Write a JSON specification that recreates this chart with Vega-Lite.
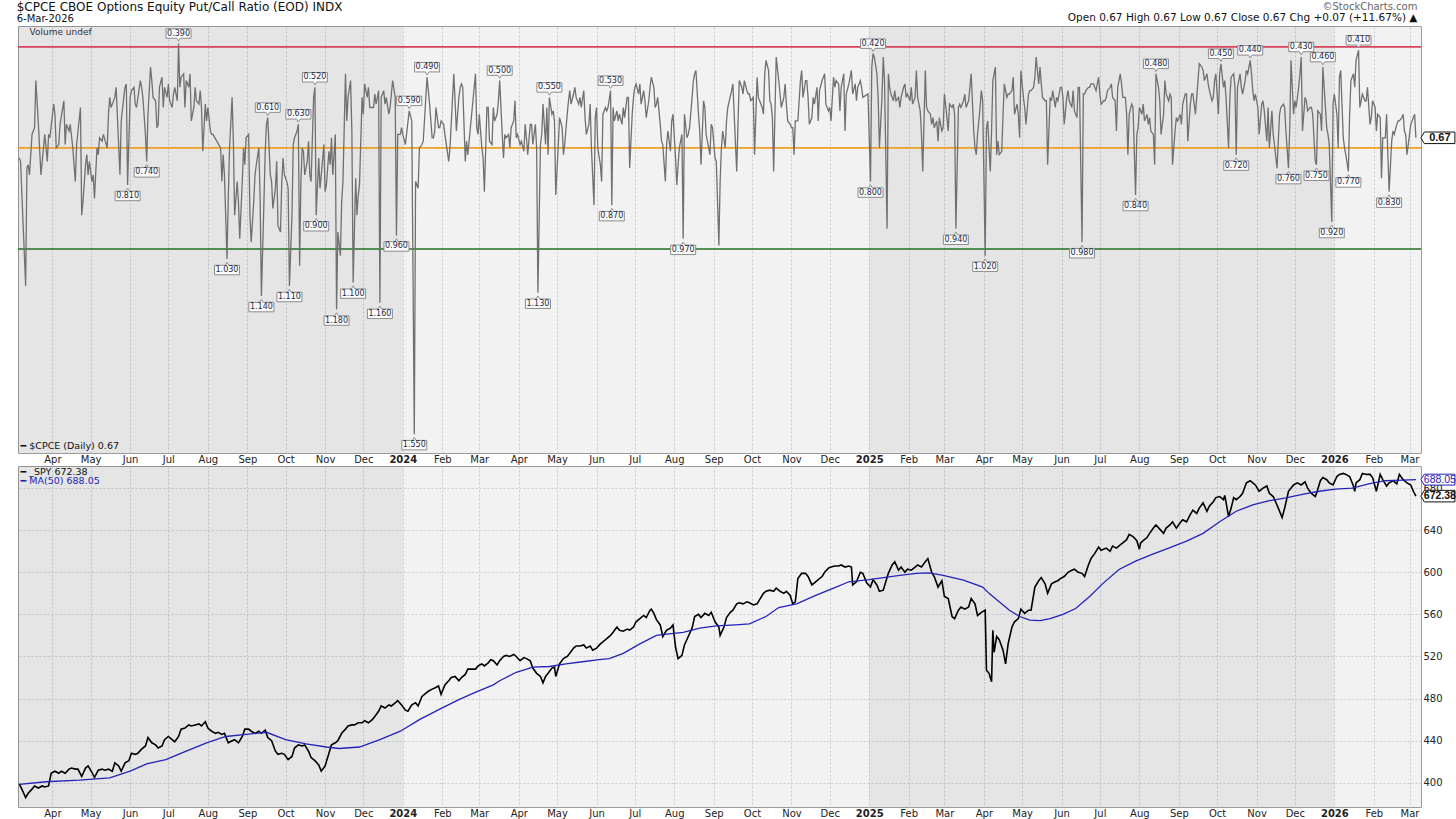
{
  "$schema": "https://vega.github.io/schema/vega-lite/v6.json",
  "padding": {"left": 15, "top": 0, "right": 0, "bottom": 0},
  "background": "white",
  "config": {
    "font": "DejaVu Sans",
    "view": {"stroke": "#9b9b9b", "strokeWidth": 1, "fill": "#f2f2f2"},
    "axis": {"grid": true, "gridColor": "#c5ccd6", "gridDash": [2, 2], "ticks": false, "domain": false, "labelFontSize": 10, "labelColor": "#222222", "labelPadding": 3, "labelOverlap": false, "labelFlush": false}
  },
  "title": {
    "text": "©StockCharts.com",
    "subtitle": "Open 0.67  High 0.67  Low 0.67  Close 0.67  Chg +0.07 (+11.67%) ▲",
    "anchor": "end", "offset": -23, "dx": -40,
    "fontSize": 10, "fontWeight": "normal", "color": "#666666",
    "subtitleFontSize": 10.5, "subtitleColor": "#111111", "subtitlePadding": 1
  },
  "datasets": {
    "cpce": [
      {"d":"2023-03-06","v":0.73},{"d":"2023-03-07","v":0.74},{"d":"2023-03-11","v":1.11},{"d":"2023-03-12","v":0.76},{"d":"2023-03-13","v":0.75},{"d":"2023-03-14","v":0.78},{"d":"2023-03-16","v":0.66},{"d":"2023-03-18","v":0.64},{"d":"2023-03-19","v":0.50},{"d":"2023-03-21","v":0.63},{"d":"2023-03-23","v":0.78},{"d":"2023-03-25","v":0.70},{"d":"2023-03-26","v":0.66},{"d":"2023-03-28","v":0.74},{"d":"2023-03-29","v":0.66},{"d":"2023-03-30","v":0.67},
      {"d":"2023-04-02","v":0.57},{"d":"2023-04-03","v":0.60},{"d":"2023-04-04","v":0.70},{"d":"2023-04-06","v":0.69},{"d":"2023-04-07","v":0.63},{"d":"2023-04-10","v":0.56},{"d":"2023-04-11","v":0.69},{"d":"2023-04-12","v":0.63},{"d":"2023-04-14","v":0.65},{"d":"2023-04-15","v":0.63},{"d":"2023-04-17","v":0.70},{"d":"2023-04-19","v":0.80},{"d":"2023-04-20","v":0.69},{"d":"2023-04-23","v":0.58},{"d":"2023-04-24","v":0.90},{"d":"2023-04-25","v":0.86},{"d":"2023-04-27","v":0.75},{"d":"2023-04-28","v":0.72},{"d":"2023-04-29","v":0.78},{"d":"2023-04-30","v":0.74},
      {"d":"2023-05-02","v":0.80},{"d":"2023-05-03","v":0.78},{"d":"2023-05-04","v":0.85},{"d":"2023-05-06","v":0.70},{"d":"2023-05-07","v":0.72},{"d":"2023-05-08","v":0.67},{"d":"2023-05-10","v":0.68},{"d":"2023-05-11","v":0.66},{"d":"2023-05-14","v":0.70},{"d":"2023-05-15","v":0.60},{"d":"2023-05-16","v":0.55},{"d":"2023-05-17","v":0.58},{"d":"2023-05-20","v":0.55},{"d":"2023-05-21","v":0.52},{"d":"2023-05-24","v":0.78},{"d":"2023-05-25","v":0.62},{"d":"2023-05-27","v":0.55},{"d":"2023-05-28","v":0.52},{"d":"2023-05-29","v":0.51},{"d":"2023-05-30","v":0.81,"ext":"high"},
      {"d":"2023-06-01","v":0.55},{"d":"2023-06-02","v":0.53},{"d":"2023-06-04","v":0.52},{"d":"2023-06-05","v":0.57},{"d":"2023-06-06","v":0.58},{"d":"2023-06-09","v":0.50},{"d":"2023-06-10","v":0.52},{"d":"2023-06-11","v":0.55},{"d":"2023-06-13","v":0.66},{"d":"2023-06-14","v":0.74,"ext":"high"},{"d":"2023-06-15","v":0.60},{"d":"2023-06-17","v":0.46},{"d":"2023-06-18","v":0.50},{"d":"2023-06-19","v":0.55},{"d":"2023-06-21","v":0.56},{"d":"2023-06-22","v":0.64},{"d":"2023-06-23","v":0.63},{"d":"2023-06-24","v":0.52},{"d":"2023-06-26","v":0.49},{"d":"2023-06-27","v":0.58},{"d":"2023-06-28","v":0.52},{"d":"2023-06-30","v":0.55},
      {"d":"2023-07-01","v":0.51},{"d":"2023-07-02","v":0.56},{"d":"2023-07-04","v":0.58},{"d":"2023-07-05","v":0.54},{"d":"2023-07-06","v":0.52},{"d":"2023-07-08","v":0.56},{"d":"2023-07-09","v":0.39,"ext":"low"},{"d":"2023-07-10","v":0.52},{"d":"2023-07-11","v":0.49},{"d":"2023-07-13","v":0.48},{"d":"2023-07-14","v":0.58},{"d":"2023-07-15","v":0.50},{"d":"2023-07-17","v":0.52},{"d":"2023-07-18","v":0.48},{"d":"2023-07-19","v":0.62},{"d":"2023-07-21","v":0.58},{"d":"2023-07-22","v":0.52},{"d":"2023-07-23","v":0.56},{"d":"2023-07-25","v":0.57},{"d":"2023-07-26","v":0.53},{"d":"2023-07-27","v":0.58},{"d":"2023-07-28","v":0.71},{"d":"2023-07-30","v":0.57},{"d":"2023-07-31","v":0.62},
      {"d":"2023-08-01","v":0.58},{"d":"2023-08-03","v":0.65},{"d":"2023-08-04","v":0.66},{"d":"2023-08-05","v":0.66},{"d":"2023-08-08","v":0.68},{"d":"2023-08-11","v":0.70},{"d":"2023-08-12","v":0.80},{"d":"2023-08-13","v":0.72},{"d":"2023-08-14","v":0.78},{"d":"2023-08-16","v":1.03,"ext":"high"},{"d":"2023-08-17","v":0.85},{"d":"2023-08-18","v":0.70},{"d":"2023-08-20","v":0.55},{"d":"2023-08-21","v":0.68},{"d":"2023-08-22","v":0.90},{"d":"2023-08-24","v":0.80},{"d":"2023-08-25","v":0.86},{"d":"2023-08-26","v":0.97},{"d":"2023-08-28","v":0.80},{"d":"2023-08-29","v":0.70},{"d":"2023-08-30","v":0.75},{"d":"2023-08-31","v":0.67},
      {"d":"2023-09-02","v":0.66},{"d":"2023-09-03","v":0.90},{"d":"2023-09-04","v":0.98},{"d":"2023-09-06","v":0.86},{"d":"2023-09-07","v":0.78},{"d":"2023-09-08","v":0.75},{"d":"2023-09-10","v":0.70},{"d":"2023-09-11","v":0.85},{"d":"2023-09-12","v":1.14,"ext":"high"},{"d":"2023-09-14","v":0.86},{"d":"2023-09-15","v":0.71},{"d":"2023-09-16","v":0.63},{"d":"2023-09-17","v":0.61,"ext":"low"},{"d":"2023-09-19","v":0.78},{"d":"2023-09-20","v":0.80},{"d":"2023-09-21","v":0.88},{"d":"2023-09-23","v":0.82},{"d":"2023-09-24","v":0.74},{"d":"2023-09-25","v":0.93},{"d":"2023-09-27","v":0.95},{"d":"2023-09-28","v":0.80},{"d":"2023-09-29","v":0.73},{"d":"2023-09-30","v":0.78},
      {"d":"2023-10-02","v":0.80},{"d":"2023-10-03","v":0.82},{"d":"2023-10-04","v":1.11,"ext":"high"},{"d":"2023-10-06","v":0.90},{"d":"2023-10-07","v":0.69},{"d":"2023-10-08","v":0.67},{"d":"2023-10-10","v":0.65},{"d":"2023-10-11","v":0.63,"ext":"low"},{"d":"2023-10-12","v":1.05},{"d":"2023-10-13","v":0.80},{"d":"2023-10-14","v":0.70},{"d":"2023-10-15","v":0.71},{"d":"2023-10-16","v":0.78},{"d":"2023-10-18","v":0.74},{"d":"2023-10-19","v":0.68},{"d":"2023-10-20","v":0.78},{"d":"2023-10-21","v":0.80},{"d":"2023-10-23","v":0.55},{"d":"2023-10-24","v":0.52,"ext":"low"},{"d":"2023-10-25","v":0.90,"ext":"high"},{"d":"2023-10-27","v":0.73},{"d":"2023-10-28","v":0.82},{"d":"2023-10-29","v":0.78},{"d":"2023-10-31","v":0.69},
      {"d":"2023-11-01","v":0.83},{"d":"2023-11-02","v":0.81},{"d":"2023-11-04","v":0.71},{"d":"2023-11-05","v":0.75},{"d":"2023-11-06","v":0.67},{"d":"2023-11-07","v":0.78},{"d":"2023-11-09","v":0.66},{"d":"2023-11-10","v":1.18,"ext":"high"},{"d":"2023-11-11","v":0.95},{"d":"2023-11-13","v":1.02},{"d":"2023-11-14","v":0.86},{"d":"2023-11-15","v":0.80},{"d":"2023-11-17","v":0.48},{"d":"2023-11-18","v":0.62},{"d":"2023-11-19","v":0.55},{"d":"2023-11-21","v":0.50},{"d":"2023-11-22","v":0.65},{"d":"2023-11-23","v":1.10,"ext":"high"},{"d":"2023-11-25","v":0.79},{"d":"2023-11-26","v":0.90},{"d":"2023-11-27","v":0.84},{"d":"2023-11-28","v":0.81},{"d":"2023-11-30","v":0.55},
      {"d":"2023-12-01","v":0.60},{"d":"2023-12-02","v":0.51},{"d":"2023-12-04","v":0.55},{"d":"2023-12-05","v":0.52},{"d":"2023-12-06","v":0.58},{"d":"2023-12-09","v":0.58},{"d":"2023-12-10","v":0.54},{"d":"2023-12-11","v":0.57},{"d":"2023-12-13","v":0.53},{"d":"2023-12-14","v":1.16,"ext":"high"},{"d":"2023-12-15","v":0.55},{"d":"2023-12-17","v":0.53},{"d":"2023-12-18","v":0.57},{"d":"2023-12-19","v":0.55},{"d":"2023-12-21","v":0.60},{"d":"2023-12-22","v":0.58},{"d":"2023-12-23","v":0.54},{"d":"2023-12-24","v":0.50},{"d":"2023-12-26","v":0.55},{"d":"2023-12-27","v":0.96,"ext":"high"},{"d":"2023-12-28","v":0.66},{"d":"2023-12-30","v":0.66},{"d":"2023-12-31","v":0.64},
      {"d":"2024-01-01","v":0.66},{"d":"2024-01-03","v":0.69},{"d":"2024-01-06","v":0.59,"ext":"low"},{"d":"2024-01-08","v":0.62},{"d":"2024-01-10","v":1.55,"ext":"high"},{"d":"2024-01-11","v":0.80},{"d":"2024-01-13","v":0.82},{"d":"2024-01-14","v":0.70},{"d":"2024-01-16","v":0.69},{"d":"2024-01-17","v":0.68},{"d":"2024-01-20","v":0.49,"ext":"low"},{"d":"2024-01-22","v":0.57},{"d":"2024-01-24","v":0.67},{"d":"2024-01-25","v":0.67},{"d":"2024-01-26","v":0.65},{"d":"2024-01-27","v":0.58},{"d":"2024-01-29","v":0.64},{"d":"2024-01-30","v":0.64},{"d":"2024-01-31","v":0.62},
      {"d":"2024-02-02","v":0.63},{"d":"2024-02-03","v":0.66},{"d":"2024-02-06","v":0.74},{"d":"2024-02-07","v":0.70},{"d":"2024-02-10","v":0.48},{"d":"2024-02-11","v":0.56},{"d":"2024-02-12","v":0.65},{"d":"2024-02-14","v":0.55},{"d":"2024-02-15","v":0.52},{"d":"2024-02-16","v":0.51},{"d":"2024-02-17","v":0.52},{"d":"2024-02-19","v":0.74},{"d":"2024-02-20","v":0.68},{"d":"2024-02-21","v":0.72},{"d":"2024-02-24","v":0.60},{"d":"2024-02-27","v":0.48},{"d":"2024-02-28","v":0.64},{"d":"2024-02-29","v":0.66},
      {"d":"2024-03-01","v":0.60},{"d":"2024-03-03","v":0.70},{"d":"2024-03-04","v":0.73},{"d":"2024-03-05","v":0.83},{"d":"2024-03-07","v":0.58},{"d":"2024-03-08","v":0.58},{"d":"2024-03-09","v":0.68},{"d":"2024-03-11","v":0.69},{"d":"2024-03-12","v":0.58},{"d":"2024-03-13","v":0.62},{"d":"2024-03-15","v":0.60},{"d":"2024-03-16","v":0.56},{"d":"2024-03-17","v":0.50,"ext":"low"},{"d":"2024-03-19","v":0.66},{"d":"2024-03-20","v":0.73},{"d":"2024-03-21","v":0.66},{"d":"2024-03-22","v":0.67},{"d":"2024-03-24","v":0.66},{"d":"2024-03-25","v":0.70},{"d":"2024-03-26","v":0.64},{"d":"2024-03-28","v":0.62},{"d":"2024-03-29","v":0.56},{"d":"2024-03-30","v":0.67},{"d":"2024-03-31","v":0.66},
      {"d":"2024-04-02","v":0.69},{"d":"2024-04-03","v":0.68},{"d":"2024-04-05","v":0.71},{"d":"2024-04-06","v":0.63},{"d":"2024-04-07","v":0.67},{"d":"2024-04-08","v":0.72},{"d":"2024-04-10","v":0.63},{"d":"2024-04-11","v":0.63},{"d":"2024-04-12","v":0.69},{"d":"2024-04-14","v":0.63},{"d":"2024-04-15","v":0.70},{"d":"2024-04-16","v":1.13,"ext":"high"},{"d":"2024-04-18","v":0.69},{"d":"2024-04-19","v":0.66},{"d":"2024-04-20","v":0.57},{"d":"2024-04-22","v":0.69},{"d":"2024-04-23","v":0.58},{"d":"2024-04-24","v":0.72},{"d":"2024-04-25","v":0.55,"ext":"low"},{"d":"2024-04-27","v":0.60},{"d":"2024-04-28","v":0.59},{"d":"2024-04-29","v":0.62},{"d":"2024-04-30","v":0.84},
      {"d":"2024-05-02","v":0.69},{"d":"2024-05-03","v":0.61},{"d":"2024-05-05","v":0.64},{"d":"2024-05-06","v":0.72},{"d":"2024-05-07","v":0.69},{"d":"2024-05-09","v":0.60},{"d":"2024-05-10","v":0.56},{"d":"2024-05-11","v":0.53},{"d":"2024-05-12","v":0.57},{"d":"2024-05-14","v":0.54},{"d":"2024-05-15","v":0.52},{"d":"2024-05-16","v":0.55},{"d":"2024-05-18","v":0.57},{"d":"2024-05-19","v":0.55},{"d":"2024-05-20","v":0.58},{"d":"2024-05-22","v":0.53},{"d":"2024-05-23","v":0.61},{"d":"2024-05-24","v":0.66},{"d":"2024-05-26","v":0.63},{"d":"2024-05-27","v":0.57},{"d":"2024-05-28","v":0.70},{"d":"2024-05-30","v":0.87},{"d":"2024-05-31","v":0.61},
      {"d":"2024-06-01","v":0.58},{"d":"2024-06-02","v":0.70},{"d":"2024-06-04","v":0.75},{"d":"2024-06-05","v":0.80},{"d":"2024-06-06","v":0.60},{"d":"2024-06-08","v":0.58},{"d":"2024-06-09","v":0.59},{"d":"2024-06-10","v":0.58},{"d":"2024-06-12","v":0.53,"ext":"low"},{"d":"2024-06-13","v":0.87,"ext":"high"},{"d":"2024-06-14","v":0.58},{"d":"2024-06-15","v":0.62},{"d":"2024-06-17","v":0.59},{"d":"2024-06-18","v":0.62},{"d":"2024-06-19","v":0.60},{"d":"2024-06-21","v":0.63},{"d":"2024-06-22","v":0.58},{"d":"2024-06-23","v":0.61},{"d":"2024-06-25","v":0.55},{"d":"2024-06-26","v":0.55},{"d":"2024-06-27","v":0.76},{"d":"2024-06-29","v":0.60},{"d":"2024-06-30","v":0.55},
      {"d":"2024-07-01","v":0.52},{"d":"2024-07-02","v":0.51},{"d":"2024-07-04","v":0.54},{"d":"2024-07-05","v":0.51},{"d":"2024-07-06","v":0.57},{"d":"2024-07-08","v":0.53},{"d":"2024-07-09","v":0.56},{"d":"2024-07-10","v":0.61},{"d":"2024-07-12","v":0.56},{"d":"2024-07-13","v":0.52},{"d":"2024-07-14","v":0.49},{"d":"2024-07-16","v":0.52},{"d":"2024-07-17","v":0.58},{"d":"2024-07-18","v":0.57},{"d":"2024-07-19","v":0.55},{"d":"2024-07-21","v":0.63},{"d":"2024-07-22","v":0.68},{"d":"2024-07-23","v":0.69},{"d":"2024-07-25","v":0.80},{"d":"2024-07-26","v":0.69},{"d":"2024-07-27","v":0.65},{"d":"2024-07-29","v":0.71},{"d":"2024-07-30","v":0.62},{"d":"2024-07-31","v":0.60},
      {"d":"2024-08-02","v":0.73},{"d":"2024-08-03","v":0.81},{"d":"2024-08-04","v":0.75},{"d":"2024-08-05","v":0.70},{"d":"2024-08-07","v":0.66},{"d":"2024-08-08","v":0.97,"ext":"high"},{"d":"2024-08-09","v":0.60},{"d":"2024-08-11","v":0.67},{"d":"2024-08-12","v":0.66},{"d":"2024-08-13","v":0.64},{"d":"2024-08-15","v":0.55},{"d":"2024-08-16","v":0.50},{"d":"2024-08-17","v":0.48},{"d":"2024-08-18","v":0.47},{"d":"2024-08-20","v":0.60},{"d":"2024-08-21","v":0.65},{"d":"2024-08-22","v":0.75},{"d":"2024-08-24","v":0.56},{"d":"2024-08-25","v":0.58},{"d":"2024-08-26","v":0.66},{"d":"2024-08-28","v":0.70},{"d":"2024-08-29","v":0.72},{"d":"2024-08-30","v":0.63},{"d":"2024-08-31","v":0.64},
      {"d":"2024-09-02","v":0.73},{"d":"2024-09-03","v":0.74},{"d":"2024-09-05","v":0.99},{"d":"2024-09-06","v":0.80},{"d":"2024-09-07","v":0.70},{"d":"2024-09-08","v":0.65},{"d":"2024-09-10","v":0.70},{"d":"2024-09-11","v":0.62},{"d":"2024-09-12","v":0.58},{"d":"2024-09-15","v":0.53},{"d":"2024-09-16","v":0.51},{"d":"2024-09-19","v":0.77},{"d":"2024-09-20","v":0.63},{"d":"2024-09-21","v":0.50},{"d":"2024-09-23","v":0.52},{"d":"2024-09-24","v":0.54},{"d":"2024-09-25","v":0.50},{"d":"2024-09-27","v":0.53},{"d":"2024-09-28","v":0.54},{"d":"2024-09-29","v":0.54},{"d":"2024-09-30","v":0.56},
      {"d":"2024-10-02","v":0.55},{"d":"2024-10-03","v":0.72},{"d":"2024-10-05","v":0.49},{"d":"2024-10-06","v":0.55},{"d":"2024-10-09","v":0.58},{"d":"2024-10-10","v":0.60},{"d":"2024-10-11","v":0.48},{"d":"2024-10-12","v":0.44},{"d":"2024-10-14","v":0.47},{"d":"2024-10-15","v":0.56},{"d":"2024-10-16","v":0.57},{"d":"2024-10-17","v":0.61},{"d":"2024-10-18","v":0.77},{"d":"2024-10-20","v":0.43},{"d":"2024-10-22","v":0.50},{"d":"2024-10-24","v":0.58},{"d":"2024-10-26","v":0.55},{"d":"2024-10-27","v":0.51},{"d":"2024-10-28","v":0.57},{"d":"2024-10-29","v":0.62},{"d":"2024-10-31","v":0.63},
      {"d":"2024-11-01","v":0.64},{"d":"2024-11-02","v":0.64},{"d":"2024-11-03","v":0.72},{"d":"2024-11-04","v":0.62},{"d":"2024-11-06","v":0.62},{"d":"2024-11-08","v":0.50},{"d":"2024-11-09","v":0.47},{"d":"2024-11-10","v":0.55},{"d":"2024-11-12","v":0.50},{"d":"2024-11-13","v":0.50},{"d":"2024-11-14","v":0.55},{"d":"2024-11-15","v":0.63},{"d":"2024-11-17","v":0.61},{"d":"2024-11-18","v":0.55},{"d":"2024-11-19","v":0.57},{"d":"2024-11-21","v":0.52},{"d":"2024-11-22","v":0.62},{"d":"2024-11-23","v":0.53},{"d":"2024-11-25","v":0.50},{"d":"2024-11-26","v":0.49},{"d":"2024-11-27","v":0.48},{"d":"2024-11-28","v":0.57},{"d":"2024-11-30","v":0.59},
      {"d":"2024-12-01","v":0.58},{"d":"2024-12-02","v":0.62},{"d":"2024-12-04","v":0.49},{"d":"2024-12-05","v":0.52},{"d":"2024-12-06","v":0.50},{"d":"2024-12-08","v":0.51},{"d":"2024-12-09","v":0.59},{"d":"2024-12-10","v":0.52},{"d":"2024-12-12","v":0.48},{"d":"2024-12-13","v":0.65},{"d":"2024-12-14","v":0.54},{"d":"2024-12-16","v":0.51},{"d":"2024-12-17","v":0.49},{"d":"2024-12-18","v":0.47},{"d":"2024-12-19","v":0.54},{"d":"2024-12-21","v":0.51},{"d":"2024-12-22","v":0.56},{"d":"2024-12-23","v":0.52},{"d":"2024-12-25","v":0.50},{"d":"2024-12-26","v":0.52},{"d":"2024-12-27","v":0.55},{"d":"2024-12-31","v":0.54},
      {"d":"2025-01-02","v":0.80,"ext":"high"},{"d":"2025-01-03","v":0.46},{"d":"2025-01-04","v":0.42,"ext":"low"},{"d":"2025-01-05","v":0.43},{"d":"2025-01-07","v":0.48},{"d":"2025-01-08","v":0.55},{"d":"2025-01-09","v":0.70},{"d":"2025-01-11","v":0.55},{"d":"2025-01-12","v":0.43},{"d":"2025-01-13","v":0.50},{"d":"2025-01-15","v":0.94},{"d":"2025-01-16","v":0.48},{"d":"2025-01-17","v":0.52},{"d":"2025-01-18","v":0.54},{"d":"2025-01-20","v":0.56},{"d":"2025-01-21","v":0.53},{"d":"2025-01-22","v":0.56},{"d":"2025-01-24","v":0.55},{"d":"2025-01-25","v":0.58},{"d":"2025-01-26","v":0.55},{"d":"2025-01-28","v":0.52},{"d":"2025-01-29","v":0.51},{"d":"2025-01-30","v":0.55},{"d":"2025-01-31","v":0.54},
      {"d":"2025-02-02","v":0.56},{"d":"2025-02-03","v":0.52},{"d":"2025-02-04","v":0.57},{"d":"2025-02-06","v":0.55},{"d":"2025-02-07","v":0.47},{"d":"2025-02-08","v":0.55},{"d":"2025-02-10","v":0.59},{"d":"2025-02-11","v":0.66},{"d":"2025-02-12","v":0.77},{"d":"2025-02-14","v":0.47},{"d":"2025-02-15","v":0.58},{"d":"2025-02-16","v":0.59},{"d":"2025-02-18","v":0.60},{"d":"2025-02-19","v":0.63},{"d":"2025-02-20","v":0.61},{"d":"2025-02-21","v":0.64},{"d":"2025-02-23","v":0.62},{"d":"2025-02-24","v":0.68},{"d":"2025-02-25","v":0.61},{"d":"2025-02-27","v":0.65},{"d":"2025-02-28","v":0.64},
      {"d":"2025-03-01","v":0.54},{"d":"2025-03-03","v":0.61},{"d":"2025-03-04","v":0.65},{"d":"2025-03-05","v":0.57},{"d":"2025-03-07","v":0.58},{"d":"2025-03-08","v":0.57},{"d":"2025-03-09","v":0.60},{"d":"2025-03-10","v":0.94,"ext":"high"},{"d":"2025-03-12","v":0.58},{"d":"2025-03-13","v":0.57},{"d":"2025-03-14","v":0.58},{"d":"2025-03-16","v":0.56},{"d":"2025-03-17","v":0.54},{"d":"2025-03-18","v":0.58},{"d":"2025-03-20","v":0.56},{"d":"2025-03-21","v":0.52},{"d":"2025-03-22","v":0.48},{"d":"2025-03-24","v":0.65},{"d":"2025-03-25","v":0.70},{"d":"2025-03-26","v":0.72},{"d":"2025-03-27","v":0.66},{"d":"2025-03-29","v":0.58},{"d":"2025-03-30","v":0.53},{"d":"2025-03-31","v":0.56},
      {"d":"2025-04-02","v":1.02,"ext":"high"},{"d":"2025-04-03","v":0.64},{"d":"2025-04-04","v":0.62},{"d":"2025-04-06","v":0.77},{"d":"2025-04-07","v":0.65},{"d":"2025-04-08","v":0.50},{"d":"2025-04-10","v":0.46},{"d":"2025-04-11","v":0.72},{"d":"2025-04-12","v":0.68},{"d":"2025-04-13","v":0.72},{"d":"2025-04-15","v":0.71},{"d":"2025-04-16","v":0.60},{"d":"2025-04-17","v":0.51},{"d":"2025-04-19","v":0.55},{"d":"2025-04-20","v":0.54},{"d":"2025-04-21","v":0.54},{"d":"2025-04-23","v":0.53},{"d":"2025-04-24","v":0.49},{"d":"2025-04-25","v":0.60},{"d":"2025-04-27","v":0.57},{"d":"2025-04-28","v":0.60},{"d":"2025-04-29","v":0.67},{"d":"2025-04-30","v":0.47},
      {"d":"2025-05-02","v":0.55},{"d":"2025-05-03","v":0.58},{"d":"2025-05-04","v":0.63},{"d":"2025-05-06","v":0.54},{"d":"2025-05-07","v":0.53},{"d":"2025-05-08","v":0.53},{"d":"2025-05-10","v":0.52},{"d":"2025-05-11","v":0.49},{"d":"2025-05-12","v":0.43},{"d":"2025-05-14","v":0.51},{"d":"2025-05-15","v":0.46},{"d":"2025-05-16","v":0.51},{"d":"2025-05-17","v":0.55},{"d":"2025-05-19","v":0.56},{"d":"2025-05-20","v":0.56},{"d":"2025-05-21","v":0.75},{"d":"2025-05-23","v":0.55},{"d":"2025-05-24","v":0.56},{"d":"2025-05-25","v":0.53},{"d":"2025-05-27","v":0.58},{"d":"2025-05-28","v":0.55},{"d":"2025-05-29","v":0.56},{"d":"2025-05-31","v":0.52},
      {"d":"2025-06-01","v":0.52},{"d":"2025-06-02","v":0.55},{"d":"2025-06-03","v":0.63},{"d":"2025-06-05","v":0.55},{"d":"2025-06-06","v":0.53},{"d":"2025-06-07","v":0.56},{"d":"2025-06-09","v":0.58},{"d":"2025-06-10","v":0.53},{"d":"2025-06-11","v":0.59},{"d":"2025-06-13","v":0.61},{"d":"2025-06-14","v":0.52},{"d":"2025-06-15","v":0.52},{"d":"2025-06-17","v":0.98,"ext":"high"},{"d":"2025-06-18","v":0.54},{"d":"2025-06-19","v":0.54},{"d":"2025-06-20","v":0.53},{"d":"2025-06-22","v":0.52},{"d":"2025-06-23","v":0.52},{"d":"2025-06-24","v":0.51},{"d":"2025-06-26","v":0.51},{"d":"2025-06-27","v":0.52},{"d":"2025-06-28","v":0.53},{"d":"2025-06-30","v":0.49},
      {"d":"2025-07-01","v":0.54},{"d":"2025-07-02","v":0.57},{"d":"2025-07-04","v":0.56},{"d":"2025-07-05","v":0.56},{"d":"2025-07-06","v":0.55},{"d":"2025-07-07","v":0.53},{"d":"2025-07-09","v":0.52},{"d":"2025-07-10","v":0.51},{"d":"2025-07-11","v":0.55},{"d":"2025-07-13","v":0.56},{"d":"2025-07-14","v":0.65},{"d":"2025-07-15","v":0.52},{"d":"2025-07-17","v":0.48},{"d":"2025-07-18","v":0.51},{"d":"2025-07-19","v":0.55},{"d":"2025-07-21","v":0.55},{"d":"2025-07-22","v":0.60},{"d":"2025-07-23","v":0.72},{"d":"2025-07-24","v":0.60},{"d":"2025-07-26","v":0.57},{"d":"2025-07-27","v":0.58},{"d":"2025-07-29","v":0.84,"ext":"high"},{"d":"2025-07-30","v":0.66},{"d":"2025-07-31","v":0.64},
      {"d":"2025-08-01","v":0.58},{"d":"2025-08-03","v":0.60},{"d":"2025-08-04","v":0.57},{"d":"2025-08-05","v":0.62},{"d":"2025-08-07","v":0.60},{"d":"2025-08-08","v":0.63},{"d":"2025-08-09","v":0.61},{"d":"2025-08-10","v":0.65},{"d":"2025-08-12","v":0.66},{"d":"2025-08-13","v":0.75},{"d":"2025-08-14","v":0.48,"ext":"low"},{"d":"2025-08-16","v":0.52},{"d":"2025-08-17","v":0.56},{"d":"2025-08-18","v":0.66},{"d":"2025-08-20","v":0.60},{"d":"2025-08-21","v":0.50},{"d":"2025-08-22","v":0.54},{"d":"2025-08-24","v":0.56},{"d":"2025-08-25","v":0.54},{"d":"2025-08-26","v":0.55},{"d":"2025-08-27","v":0.75},{"d":"2025-08-29","v":0.65},{"d":"2025-08-30","v":0.61},{"d":"2025-08-31","v":0.62},
      {"d":"2025-09-02","v":0.60},{"d":"2025-09-03","v":0.63},{"d":"2025-09-04","v":0.57},{"d":"2025-09-06","v":0.54},{"d":"2025-09-07","v":0.54},{"d":"2025-09-08","v":0.68},{"d":"2025-09-10","v":0.57},{"d":"2025-09-11","v":0.54},{"d":"2025-09-12","v":0.54},{"d":"2025-09-14","v":0.60},{"d":"2025-09-15","v":0.55},{"d":"2025-09-17","v":0.45},{"d":"2025-09-19","v":0.46},{"d":"2025-09-20","v":0.47},{"d":"2025-09-21","v":0.50},{"d":"2025-09-23","v":0.48},{"d":"2025-09-24","v":0.51},{"d":"2025-09-25","v":0.53},{"d":"2025-09-27","v":0.56},{"d":"2025-09-28","v":0.55},{"d":"2025-09-29","v":0.50},{"d":"2025-09-30","v":0.48},
      {"d":"2025-10-02","v":0.60},{"d":"2025-10-03","v":0.48},{"d":"2025-10-04","v":0.45,"ext":"low"},{"d":"2025-10-06","v":0.52},{"d":"2025-10-07","v":0.50},{"d":"2025-10-08","v":0.55},{"d":"2025-10-10","v":0.70},{"d":"2025-10-11","v":0.55},{"d":"2025-10-12","v":0.49},{"d":"2025-10-14","v":0.48},{"d":"2025-10-15","v":0.52},{"d":"2025-10-16","v":0.72,"ext":"high"},{"d":"2025-10-17","v":0.52},{"d":"2025-10-19","v":0.48},{"d":"2025-10-20","v":0.52},{"d":"2025-10-21","v":0.54},{"d":"2025-10-23","v":0.50},{"d":"2025-10-24","v":0.47},{"d":"2025-10-25","v":0.48},{"d":"2025-10-27","v":0.44,"ext":"low"},{"d":"2025-10-28","v":0.48},{"d":"2025-10-29","v":0.53},{"d":"2025-10-30","v":0.56},{"d":"2025-10-31","v":0.54},
      {"d":"2025-11-02","v":0.58},{"d":"2025-11-03","v":0.66},{"d":"2025-11-05","v":0.57},{"d":"2025-11-06","v":0.56},{"d":"2025-11-07","v":0.59},{"d":"2025-11-09","v":0.68},{"d":"2025-11-10","v":0.58},{"d":"2025-11-11","v":0.70},{"d":"2025-11-13","v":0.59},{"d":"2025-11-14","v":0.66},{"d":"2025-11-15","v":0.69},{"d":"2025-11-17","v":0.76},{"d":"2025-11-18","v":0.68},{"d":"2025-11-19","v":0.60},{"d":"2025-11-20","v":0.58},{"d":"2025-11-22","v":0.57},{"d":"2025-11-23","v":0.58},{"d":"2025-11-24","v":0.65},{"d":"2025-11-26","v":0.76,"ext":"high"},{"d":"2025-11-27","v":0.64},{"d":"2025-11-28","v":0.44},{"d":"2025-11-30","v":0.60},
      {"d":"2025-12-01","v":0.56},{"d":"2025-12-02","v":0.58},{"d":"2025-12-04","v":0.52},{"d":"2025-12-05","v":0.48},{"d":"2025-12-06","v":0.43,"ext":"low"},{"d":"2025-12-07","v":0.65},{"d":"2025-12-09","v":0.55},{"d":"2025-12-10","v":0.56},{"d":"2025-12-11","v":0.59},{"d":"2025-12-13","v":0.58},{"d":"2025-12-14","v":0.58},{"d":"2025-12-15","v":0.60},{"d":"2025-12-17","v":0.74},{"d":"2025-12-18","v":0.75,"ext":"high"},{"d":"2025-12-19","v":0.59},{"d":"2025-12-21","v":0.60},{"d":"2025-12-22","v":0.65},{"d":"2025-12-23","v":0.46,"ext":"low"},{"d":"2025-12-24","v":0.52},{"d":"2025-12-26","v":0.64},{"d":"2025-12-27","v":0.66},{"d":"2025-12-28","v":0.69},{"d":"2025-12-30","v":0.92,"ext":"high"},{"d":"2025-12-31","v":0.57},
      {"d":"2026-01-01","v":0.54},{"d":"2026-01-03","v":0.60},{"d":"2026-01-04","v":0.70},{"d":"2026-01-05","v":0.49},{"d":"2026-01-06","v":0.47},{"d":"2026-01-08","v":0.67},{"d":"2026-01-09","v":0.70},{"d":"2026-01-10","v":0.72},{"d":"2026-01-12","v":0.77,"ext":"high"},{"d":"2026-01-13","v":0.60},{"d":"2026-01-14","v":0.50},{"d":"2026-01-16","v":0.48},{"d":"2026-01-17","v":0.52},{"d":"2026-01-18","v":0.44},{"d":"2026-01-20","v":0.41,"ext":"low"},{"d":"2026-01-21","v":0.58},{"d":"2026-01-22","v":0.56},{"d":"2026-01-23","v":0.54},{"d":"2026-01-25","v":0.56},{"d":"2026-01-26","v":0.56},{"d":"2026-01-27","v":0.52},{"d":"2026-01-29","v":0.63},{"d":"2026-01-30","v":0.61},{"d":"2026-01-31","v":0.56},
      {"d":"2026-02-02","v":0.58},{"d":"2026-02-03","v":0.65},{"d":"2026-02-04","v":0.60},{"d":"2026-02-06","v":0.61},{"d":"2026-02-07","v":0.79},{"d":"2026-02-08","v":0.67},{"d":"2026-02-10","v":0.67},{"d":"2026-02-11","v":0.60},{"d":"2026-02-12","v":0.72},{"d":"2026-02-13","v":0.83,"ext":"high"},{"d":"2026-02-15","v":0.68},{"d":"2026-02-16","v":0.65},{"d":"2026-02-17","v":0.66},{"d":"2026-02-19","v":0.63},{"d":"2026-02-20","v":0.62},{"d":"2026-02-21","v":0.62},{"d":"2026-02-23","v":0.61},{"d":"2026-02-24","v":0.60},{"d":"2026-02-25","v":0.65},{"d":"2026-02-26","v":0.66},{"d":"2026-02-27","v":0.72},
      {"d":"2026-03-02","v":0.63},{"d":"2026-03-05","v":0.60},{"d":"2026-03-06","v":0.67}
    ],
    "spy": [
      {"d":"2023-03-06","v":399},{"d":"2023-03-08","v":394},{"d":"2023-03-11","v":386},{"d":"2023-03-13","v":390},{"d":"2023-03-16","v":394},{"d":"2023-03-18","v":397},{"d":"2023-03-21","v":395},{"d":"2023-03-24","v":397},{"d":"2023-03-26","v":396},{"d":"2023-03-29","v":397},{"d":"2023-03-31","v":409},
      {"d":"2023-04-03","v":411},{"d":"2023-04-06","v":409},{"d":"2023-04-08","v":411},{"d":"2023-04-11","v":409},{"d":"2023-04-14","v":413},{"d":"2023-04-16","v":414},{"d":"2023-04-19","v":413},{"d":"2023-04-21","v":413},{"d":"2023-04-24","v":406},{"d":"2023-04-27","v":414},{"d":"2023-04-29","v":416},
      {"d":"2023-05-02","v":410},{"d":"2023-05-04","v":405},{"d":"2023-05-07","v":412},{"d":"2023-05-10","v":413},{"d":"2023-05-12","v":412},{"d":"2023-05-15","v":413},{"d":"2023-05-18","v":411},{"d":"2023-05-20","v":419},{"d":"2023-05-23","v":416},{"d":"2023-05-25","v":411},{"d":"2023-05-28","v":419},{"d":"2023-05-31","v":421},
      {"d":"2023-06-02","v":428},{"d":"2023-06-05","v":427},{"d":"2023-06-07","v":428},{"d":"2023-06-10","v":432},{"d":"2023-06-13","v":435},{"d":"2023-06-15","v":443},{"d":"2023-06-18","v":438},{"d":"2023-06-21","v":436},{"d":"2023-06-23","v":433},{"d":"2023-06-26","v":435},{"d":"2023-06-28","v":441},
      {"d":"2023-07-01","v":444},{"d":"2023-07-04","v":441},{"d":"2023-07-06","v":439},{"d":"2023-07-09","v":444},{"d":"2023-07-11","v":451},{"d":"2023-07-14","v":452},{"d":"2023-07-17","v":455},{"d":"2023-07-19","v":454},{"d":"2023-07-22","v":455},{"d":"2023-07-25","v":456},{"d":"2023-07-27","v":454},{"d":"2023-07-30","v":458},
      {"d":"2023-08-01","v":452},{"d":"2023-08-04","v":449},{"d":"2023-08-07","v":447},{"d":"2023-08-09","v":448},{"d":"2023-08-12","v":446},{"d":"2023-08-14","v":447},{"d":"2023-08-17","v":438},{"d":"2023-08-20","v":440},{"d":"2023-08-22","v":441},{"d":"2023-08-25","v":438},{"d":"2023-08-28","v":444},{"d":"2023-08-30","v":451},
      {"d":"2023-09-02","v":451},{"d":"2023-09-04","v":449},{"d":"2023-09-07","v":447},{"d":"2023-09-10","v":449},{"d":"2023-09-12","v":447},{"d":"2023-09-15","v":450},{"d":"2023-09-17","v":443},{"d":"2023-09-20","v":440},{"d":"2023-09-23","v":430},{"d":"2023-09-25","v":427},{"d":"2023-09-28","v":428},{"d":"2023-09-30","v":427},
      {"d":"2023-10-03","v":422},{"d":"2023-10-06","v":425},{"d":"2023-10-08","v":433},{"d":"2023-10-11","v":436},{"d":"2023-10-14","v":435},{"d":"2023-10-16","v":436},{"d":"2023-10-19","v":430},{"d":"2023-10-21","v":424},{"d":"2023-10-24","v":421},{"d":"2023-10-27","v":417},{"d":"2023-10-29","v":411},
      {"d":"2023-11-01","v":416},{"d":"2023-11-04","v":428},{"d":"2023-11-06","v":436},{"d":"2023-11-09","v":438},{"d":"2023-11-11","v":440},{"d":"2023-11-14","v":447},{"d":"2023-11-17","v":451},{"d":"2023-11-19","v":454},{"d":"2023-11-22","v":455},{"d":"2023-11-24","v":455},{"d":"2023-11-27","v":457},{"d":"2023-11-30","v":457},
      {"d":"2023-12-02","v":459},{"d":"2023-12-05","v":457},{"d":"2023-12-08","v":460},{"d":"2023-12-10","v":463},{"d":"2023-12-13","v":468},{"d":"2023-12-15","v":473},{"d":"2023-12-18","v":471},{"d":"2023-12-21","v":474},{"d":"2023-12-23","v":473},{"d":"2023-12-26","v":476},{"d":"2023-12-28","v":478},{"d":"2023-12-31","v":474},
      {"d":"2024-01-03","v":469},{"d":"2024-01-05","v":468},{"d":"2024-01-08","v":474},{"d":"2024-01-11","v":476},{"d":"2024-01-13","v":473},{"d":"2024-01-16","v":482},{"d":"2024-01-18","v":484},{"d":"2024-01-21","v":487},{"d":"2024-01-24","v":489},{"d":"2024-01-26","v":490},{"d":"2024-01-29","v":492},{"d":"2024-01-31","v":484},
      {"d":"2024-02-03","v":493},{"d":"2024-02-06","v":497},{"d":"2024-02-08","v":500},{"d":"2024-02-11","v":501},{"d":"2024-02-14","v":497},{"d":"2024-02-16","v":500},{"d":"2024-02-19","v":503},{"d":"2024-02-21","v":508},{"d":"2024-02-24","v":508},{"d":"2024-02-27","v":508},{"d":"2024-02-29","v":511},
      {"d":"2024-03-03","v":513},{"d":"2024-03-05","v":511},{"d":"2024-03-08","v":514},{"d":"2024-03-10","v":517},{"d":"2024-03-12","v":516},{"d":"2024-03-15","v":512},{"d":"2024-03-17","v":516},{"d":"2024-03-20","v":520},{"d":"2024-03-22","v":521},{"d":"2024-03-25","v":520},{"d":"2024-03-28","v":522},{"d":"2024-03-30","v":520},
      {"d":"2024-04-02","v":516},{"d":"2024-04-05","v":519},{"d":"2024-04-07","v":518},{"d":"2024-04-10","v":516},{"d":"2024-04-12","v":509},{"d":"2024-04-15","v":504},{"d":"2024-04-18","v":501},{"d":"2024-04-20","v":495},{"d":"2024-04-22","v":501},{"d":"2024-04-24","v":504},{"d":"2024-04-27","v":509},{"d":"2024-04-29","v":510},{"d":"2024-04-30","v":501},
      {"d":"2024-05-03","v":513},{"d":"2024-05-06","v":518},{"d":"2024-05-09","v":520},{"d":"2024-05-11","v":523},{"d":"2024-05-14","v":528},{"d":"2024-05-16","v":530},{"d":"2024-05-19","v":530},{"d":"2024-05-22","v":531},{"d":"2024-05-24","v":528},{"d":"2024-05-27","v":530},{"d":"2024-05-29","v":526},
      {"d":"2024-06-01","v":528},{"d":"2024-06-04","v":532},{"d":"2024-06-06","v":534},{"d":"2024-06-09","v":537},{"d":"2024-06-12","v":540},{"d":"2024-06-14","v":543},{"d":"2024-06-17","v":548},{"d":"2024-06-19","v":545},{"d":"2024-06-22","v":544},{"d":"2024-06-25","v":546},{"d":"2024-06-27","v":545},{"d":"2024-06-30","v":548},
      {"d":"2024-07-02","v":553},{"d":"2024-07-05","v":556},{"d":"2024-07-08","v":559},{"d":"2024-07-10","v":557},{"d":"2024-07-13","v":564},{"d":"2024-07-14","v":565},{"d":"2024-07-16","v":561},{"d":"2024-07-18","v":555},{"d":"2024-07-21","v":550},{"d":"2024-07-23","v":539},{"d":"2024-07-26","v":545},{"d":"2024-07-29","v":547},{"d":"2024-07-31","v":550},
      {"d":"2024-08-02","v":529},{"d":"2024-08-04","v":518},{"d":"2024-08-07","v":521},{"d":"2024-08-09","v":531},{"d":"2024-08-12","v":539},{"d":"2024-08-15","v":547},{"d":"2024-08-17","v":558},{"d":"2024-08-20","v":560},{"d":"2024-08-22","v":557},{"d":"2024-08-25","v":561},{"d":"2024-08-28","v":559},{"d":"2024-08-30","v":562},
      {"d":"2024-09-02","v":553},{"d":"2024-09-05","v":548},{"d":"2024-09-06","v":540},{"d":"2024-09-09","v":548},{"d":"2024-09-11","v":557},{"d":"2024-09-14","v":562},{"d":"2024-09-16","v":564},{"d":"2024-09-19","v":570},{"d":"2024-09-21","v":571},{"d":"2024-09-24","v":570},{"d":"2024-09-27","v":572},{"d":"2024-09-29","v":571},
      {"d":"2024-10-02","v":569},{"d":"2024-10-05","v":570},{"d":"2024-10-07","v":574},{"d":"2024-10-10","v":580},{"d":"2024-10-12","v":582},{"d":"2024-10-15","v":583},{"d":"2024-10-18","v":582},{"d":"2024-10-20","v":585},{"d":"2024-10-23","v":582},{"d":"2024-10-26","v":580},{"d":"2024-10-28","v":582},{"d":"2024-10-31","v":578},
      {"d":"2024-11-02","v":570},{"d":"2024-11-04","v":572},{"d":"2024-11-06","v":594},{"d":"2024-11-09","v":599},{"d":"2024-11-12","v":599},{"d":"2024-11-14","v":596},{"d":"2024-11-17","v":588},{"d":"2024-11-19","v":590},{"d":"2024-11-22","v":593},{"d":"2024-11-25","v":596},{"d":"2024-11-27","v":600},{"d":"2024-11-30","v":604},
      {"d":"2024-12-02","v":605},{"d":"2024-12-05","v":606},{"d":"2024-12-08","v":606},{"d":"2024-12-10","v":607},{"d":"2024-12-13","v":605},{"d":"2024-12-16","v":606},{"d":"2024-12-18","v":605},{"d":"2024-12-19","v":588},{"d":"2024-12-22","v":591},{"d":"2024-12-25","v":600},{"d":"2024-12-27","v":599},{"d":"2024-12-30","v":590},
      {"d":"2025-01-02","v":586},{"d":"2025-01-04","v":593},{"d":"2025-01-07","v":588},{"d":"2025-01-09","v":582},{"d":"2025-01-12","v":583},{"d":"2025-01-15","v":595},{"d":"2025-01-16","v":599},{"d":"2025-01-19","v":607},{"d":"2025-01-21","v":610},{"d":"2025-01-24","v":602},{"d":"2025-01-26","v":605},{"d":"2025-01-29","v":600},{"d":"2025-01-31","v":603},
      {"d":"2025-02-03","v":602},{"d":"2025-02-06","v":605},{"d":"2025-02-08","v":607},{"d":"2025-02-11","v":605},{"d":"2025-02-14","v":610},{"d":"2025-02-16","v":613},{"d":"2025-02-19","v":600},{"d":"2025-02-21","v":596},{"d":"2025-02-24","v":586},{"d":"2025-02-27","v":592},
      {"d":"2025-03-01","v":577},{"d":"2025-03-04","v":575},{"d":"2025-03-07","v":558},{"d":"2025-03-09","v":556},{"d":"2025-03-12","v":564},{"d":"2025-03-14","v":567},{"d":"2025-03-17","v":565},{"d":"2025-03-20","v":567},{"d":"2025-03-22","v":575},{"d":"2025-03-25","v":570},{"d":"2025-03-27","v":559},{"d":"2025-03-30","v":562},
      {"d":"2025-04-02","v":564},{"d":"2025-04-03","v":507},{"d":"2025-04-05","v":504},{"d":"2025-04-07","v":496},{"d":"2025-04-08","v":545},{"d":"2025-04-09","v":524},{"d":"2025-04-11","v":539},{"d":"2025-04-13","v":536},{"d":"2025-04-16","v":526},{"d":"2025-04-18","v":513},{"d":"2025-04-20","v":532},{"d":"2025-04-23","v":548},{"d":"2025-04-25","v":553},{"d":"2025-04-28","v":556},{"d":"2025-04-30","v":565},
      {"d":"2025-05-03","v":561},{"d":"2025-05-06","v":564},{"d":"2025-05-08","v":564},{"d":"2025-05-11","v":586},{"d":"2025-05-14","v":592},{"d":"2025-05-16","v":595},{"d":"2025-05-19","v":589},{"d":"2025-05-21","v":580},{"d":"2025-05-24","v":589},{"d":"2025-05-27","v":591},{"d":"2025-05-29","v":592},{"d":"2025-05-31","v":594},
      {"d":"2025-06-03","v":596},{"d":"2025-06-06","v":600},{"d":"2025-06-09","v":602},{"d":"2025-06-11","v":603},{"d":"2025-06-14","v":600},{"d":"2025-06-17","v":599},{"d":"2025-06-19","v":596},{"d":"2025-06-22","v":607},{"d":"2025-06-24","v":613},{"d":"2025-06-27","v":618},{"d":"2025-06-30","v":624},
      {"d":"2025-07-02","v":621},{"d":"2025-07-06","v":623},{"d":"2025-07-09","v":620},{"d":"2025-07-11","v":625},{"d":"2025-07-14","v":623},{"d":"2025-07-17","v":626},{"d":"2025-07-19","v":628},{"d":"2025-07-22","v":631},{"d":"2025-07-24","v":636},{"d":"2025-07-27","v":634},{"d":"2025-07-30","v":630},
      {"d":"2025-08-01","v":622},{"d":"2025-08-02","v":628},{"d":"2025-08-04","v":630},{"d":"2025-08-07","v":633},{"d":"2025-08-09","v":637},{"d":"2025-08-12","v":642},{"d":"2025-08-14","v":645},{"d":"2025-08-17","v":641},{"d":"2025-08-20","v":637},{"d":"2025-08-22","v":642},{"d":"2025-08-25","v":645},{"d":"2025-08-27","v":648},{"d":"2025-08-30","v":642},
      {"d":"2025-09-02","v":647},{"d":"2025-09-04","v":650},{"d":"2025-09-07","v":648},{"d":"2025-09-10","v":655},{"d":"2025-09-12","v":659},{"d":"2025-09-15","v":656},{"d":"2025-09-17","v":661},{"d":"2025-09-20","v":666},{"d":"2025-09-23","v":658},{"d":"2025-09-25","v":663},{"d":"2025-09-28","v":667},{"d":"2025-09-30","v":671},
      {"d":"2025-10-03","v":672},{"d":"2025-10-06","v":669},{"d":"2025-10-07","v":673},{"d":"2025-10-10","v":653},{"d":"2025-10-12","v":661},{"d":"2025-10-14","v":671},{"d":"2025-10-16","v":669},{"d":"2025-10-19","v":672},{"d":"2025-10-21","v":675},{"d":"2025-10-24","v":685},{"d":"2025-10-27","v":687},{"d":"2025-10-29","v":685},{"d":"2025-10-31","v":683},
      {"d":"2025-11-03","v":677},{"d":"2025-11-06","v":680},{"d":"2025-11-09","v":682},{"d":"2025-11-11","v":675},{"d":"2025-11-14","v":672},{"d":"2025-11-17","v":664},{"d":"2025-11-19","v":658},{"d":"2025-11-21","v":652},{"d":"2025-11-23","v":661},{"d":"2025-11-26","v":677},{"d":"2025-11-28","v":680},{"d":"2025-11-30","v":683},
      {"d":"2025-12-03","v":685},{"d":"2025-12-06","v":683},{"d":"2025-12-09","v":686},{"d":"2025-12-11","v":680},{"d":"2025-12-14","v":675},{"d":"2025-12-17","v":672},{"d":"2025-12-18","v":675},{"d":"2025-12-21","v":687},{"d":"2025-12-23","v":690},{"d":"2025-12-26","v":688},{"d":"2025-12-28","v":685},{"d":"2025-12-31","v":683},
      {"d":"2026-01-03","v":691},{"d":"2026-01-05","v":693},{"d":"2026-01-08","v":694},{"d":"2026-01-10","v":693},{"d":"2026-01-13","v":691},{"d":"2026-01-16","v":682},{"d":"2026-01-17","v":677},{"d":"2026-01-18","v":685},{"d":"2026-01-21","v":688},{"d":"2026-01-23","v":694},{"d":"2026-01-26","v":693},{"d":"2026-01-29","v":693},{"d":"2026-01-31","v":690},
      {"d":"2026-02-03","v":677},{"d":"2026-02-06","v":693},{"d":"2026-02-08","v":688},{"d":"2026-02-11","v":682},{"d":"2026-02-13","v":685},{"d":"2026-02-16","v":687},{"d":"2026-02-19","v":684},{"d":"2026-02-21","v":693},{"d":"2026-02-24","v":688},{"d":"2026-02-27","v":685},
      {"d":"2026-03-02","v":683},{"d":"2026-03-04","v":677},{"d":"2026-03-06","v":672.38}
    ],
    "ma50": [
      {"d":"2023-03-06","v":398.4},{"d":"2023-03-27","v":401},{"d":"2023-04-22","v":402.5},{"d":"2023-05-16","v":404.7},{"d":"2023-06-01","v":411},{"d":"2023-06-14","v":418},{"d":"2023-06-29","v":422},{"d":"2023-07-15","v":430},{"d":"2023-07-31","v":438},{"d":"2023-08-15","v":444},{"d":"2023-08-31","v":446},{"d":"2023-09-16","v":448},{"d":"2023-10-01","v":441},{"d":"2023-10-17","v":437},{"d":"2023-11-02","v":434},{"d":"2023-11-12","v":432.6},{"d":"2023-11-28","v":434},{"d":"2023-12-14","v":441},{"d":"2023-12-30","v":449},
      {"d":"2024-01-14","v":460},{"d":"2024-01-30","v":470},{"d":"2024-02-14","v":479},{"d":"2024-02-25","v":485},{"d":"2024-03-12","v":493},{"d":"2024-03-17","v":497},{"d":"2024-03-30","v":505},{"d":"2024-04-12","v":510},{"d":"2024-04-25","v":510.5},{"d":"2024-05-08","v":513},{"d":"2024-05-21","v":515},{"d":"2024-06-03","v":517},{"d":"2024-06-11","v":518},{"d":"2024-06-22","v":523},{"d":"2024-07-05","v":532},{"d":"2024-07-18","v":540},{"d":"2024-07-28","v":541.5},{"d":"2024-08-08","v":543},{"d":"2024-08-21","v":547},{"d":"2024-09-03","v":549},{"d":"2024-09-18","v":550},{"d":"2024-09-29","v":551},{"d":"2024-10-12","v":558},{"d":"2024-10-22","v":566.5},{"d":"2024-11-05","v":570},{"d":"2024-11-20","v":578},{"d":"2024-12-06","v":586},{"d":"2024-12-16","v":591},
      {"d":"2025-01-01","v":593},{"d":"2025-01-25","v":597},{"d":"2025-02-07","v":599},{"d":"2025-02-17","v":599.5},{"d":"2025-02-28","v":597},{"d":"2025-03-16","v":592.5},{"d":"2025-03-31","v":586},{"d":"2025-04-05","v":580},{"d":"2025-04-13","v":572},{"d":"2025-04-21","v":564},{"d":"2025-04-29","v":558},{"d":"2025-05-07","v":554.6},{"d":"2025-05-15","v":554},{"d":"2025-05-23","v":556},{"d":"2025-06-02","v":560},{"d":"2025-06-12","v":565.6},{"d":"2025-06-23","v":577},{"d":"2025-07-03","v":589},{"d":"2025-07-16","v":602.7},{"d":"2025-07-29","v":610.6},{"d":"2025-08-11","v":617},{"d":"2025-08-24","v":623},{"d":"2025-09-07","v":629.6},{"d":"2025-09-20","v":637},{"d":"2025-10-03","v":648},{"d":"2025-10-16","v":658},{"d":"2025-10-29","v":664},{"d":"2025-11-11","v":668},{"d":"2025-11-24","v":670.7},{"d":"2025-12-07","v":674},{"d":"2025-12-20","v":677},
      {"d":"2026-01-02","v":679},{"d":"2026-01-15","v":680},{"d":"2026-01-28","v":684},{"d":"2026-02-10","v":687},{"d":"2026-02-24","v":687.5},{"d":"2026-03-06","v":688.05}
    ]
  },
  "spacing": 0,
  "vconcat": [
    {
      "width": 1403,
      "height": 427,
      "title": {"text": "$CPCE CBOE Options Equity Put/Call Ratio (EOD) INDX", "subtitle": "6-Mar-2026", "anchor": "start", "fontSize": 12, "fontWeight": "normal", "color": "#111111", "subtitleFontSize": 10, "subtitleColor": "#111111", "subtitlePadding": 0, "offset": 1},
      "layer": [
        {
          "data": {"values": [{"d": "2023-01-01", "e": "2024-01-01"}, {"d": "2025-01-01", "e": "2026-01-01"}]},
          "mark": {"type": "rect", "color": "#000000", "opacity": 0.05, "clip": true},
          "encoding": {
            "x": {
              "field": "d", "type": "temporal",
              "scale": {"type": "utc", "domain": [{"year": 2023, "month": 3, "date": 5, "utc": true}, {"year": 2026, "month": 3, "date": 10, "utc": true}]},
              "axis": {
                "title": null, "orient": "bottom", "labelPadding": 1,
                "values": [
                  {"year": 2023, "month": 4, "date": 1, "utc": true}, {"year": 2023, "month": 5, "date": 1, "utc": true}, {"year": 2023, "month": 6, "date": 1, "utc": true}, {"year": 2023, "month": 7, "date": 1, "utc": true}, {"year": 2023, "month": 8, "date": 1, "utc": true}, {"year": 2023, "month": 9, "date": 1, "utc": true}, {"year": 2023, "month": 10, "date": 1, "utc": true}, {"year": 2023, "month": 11, "date": 1, "utc": true}, {"year": 2023, "month": 12, "date": 1, "utc": true},
                  {"year": 2024, "month": 1, "date": 1, "utc": true}, {"year": 2024, "month": 2, "date": 1, "utc": true}, {"year": 2024, "month": 3, "date": 1, "utc": true}, {"year": 2024, "month": 4, "date": 1, "utc": true}, {"year": 2024, "month": 5, "date": 1, "utc": true}, {"year": 2024, "month": 6, "date": 1, "utc": true}, {"year": 2024, "month": 7, "date": 1, "utc": true}, {"year": 2024, "month": 8, "date": 1, "utc": true}, {"year": 2024, "month": 9, "date": 1, "utc": true}, {"year": 2024, "month": 10, "date": 1, "utc": true}, {"year": 2024, "month": 11, "date": 1, "utc": true}, {"year": 2024, "month": 12, "date": 1, "utc": true},
                  {"year": 2025, "month": 1, "date": 1, "utc": true}, {"year": 2025, "month": 2, "date": 1, "utc": true}, {"year": 2025, "month": 3, "date": 1, "utc": true}, {"year": 2025, "month": 4, "date": 1, "utc": true}, {"year": 2025, "month": 5, "date": 1, "utc": true}, {"year": 2025, "month": 6, "date": 1, "utc": true}, {"year": 2025, "month": 7, "date": 1, "utc": true}, {"year": 2025, "month": 8, "date": 1, "utc": true}, {"year": 2025, "month": 9, "date": 1, "utc": true}, {"year": 2025, "month": 10, "date": 1, "utc": true}, {"year": 2025, "month": 11, "date": 1, "utc": true}, {"year": 2025, "month": 12, "date": 1, "utc": true},
                  {"year": 2026, "month": 1, "date": 1, "utc": true}, {"year": 2026, "month": 2, "date": 1, "utc": true}, {"year": 2026, "month": 3, "date": 1, "utc": true}
                ],
                "labelExpr": "utcFormat(datum.value, '%m') == '01' ? utcFormat(datum.value, '%Y') : utcFormat(datum.value, '%b')",
                "labelFontWeight": {"condition": {"test": "utcFormat(datum.value, '%m') == '01'", "value": "bold"}, "value": "normal"}
              }
            },
            "x2": {"field": "e"}
          }
        },
        {
          "data": {"values": [{}]},
          "mark": {"type": "rule", "color": "#d8405c", "strokeWidth": 1.6},
          "encoding": {"y": {"datum": 0.4, "type": "quantitative", "scale": {"domain": [0.338, 1.606], "reverse": true, "nice": false, "zero": false}, "axis": null}}
        },
        {
          "data": {"values": [{}]},
          "mark": {"type": "rule", "color": "#f0a020", "strokeWidth": 1.6},
          "encoding": {"y": {"datum": 0.7, "type": "quantitative", "axis": null}}
        },
        {
          "data": {"values": [{}]},
          "mark": {"type": "rule", "color": "#1f6e1f", "strokeWidth": 1.6},
          "encoding": {"y": {"datum": 1.0, "type": "quantitative", "axis": null}}
        },
        {
          "data": {"name": "cpce"},
          "mark": {"type": "line", "color": "#707070", "strokeWidth": 1.3},
          "encoding": {
            "x": {"field": "d", "type": "temporal"},
            "y": {
              "field": "v", "type": "quantitative",
              "scale": {"domain": [0.338, 1.606], "reverse": true, "nice": false, "zero": false},
              "axis": {"title": null, "orient": "right", "values": [0.35, 0.4, 0.45, 0.5, 0.55, 0.6, 0.65, 0.7, 0.75, 0.8, 0.85, 0.9, 0.95, 1.0, 1.05, 1.1, 1.15, 1.2, 1.25, 1.3, 1.35, 1.4, 1.45, 1.5, 1.55], "format": ".2f", "labelPadding": 2}
            }
          }
        },
        {
          "data": {"name": "cpce"},
          "transform": [{"filter": "datum.ext == 'low'"}],
          "mark": {"type": "point", "shape": "M-1,-0.38L1,-0.38L1,0.38L0.14,0.38L0,0.62L-0.14,0.38L-1,0.38Z", "size": 625, "filled": true, "fill": "#fafafa", "stroke": "#8c8c8c", "strokeWidth": 1, "opacity": 1, "yOffset": -10},
          "encoding": {"x": {"field": "d", "type": "temporal"}, "y": {"field": "v", "type": "quantitative"}}
        },
        {
          "data": {"name": "cpce"},
          "transform": [{"filter": "datum.ext == 'low'"}],
          "mark": {"type": "text", "fontSize": 8, "color": "#1b2b45", "baseline": "middle", "dy": -10},
          "encoding": {"x": {"field": "d", "type": "temporal"}, "y": {"field": "v", "type": "quantitative"}, "text": {"field": "v", "type": "quantitative", "format": ".3f"}}
        },
        {
          "data": {"name": "cpce"},
          "transform": [{"filter": "datum.ext == 'high'"}],
          "mark": {"type": "point", "shape": "M-1,-0.38L-0.14,-0.38L0,-0.62L0.14,-0.38L1,-0.38L1,0.38L-1,0.38Z", "size": 625, "filled": true, "fill": "#fafafa", "stroke": "#8c8c8c", "strokeWidth": 1, "opacity": 1, "yOffset": 11},
          "encoding": {"x": {"field": "d", "type": "temporal"}, "y": {"field": "v", "type": "quantitative"}}
        },
        {
          "data": {"name": "cpce"},
          "transform": [{"filter": "datum.ext == 'high'"}],
          "mark": {"type": "text", "fontSize": 8, "color": "#1b2b45", "baseline": "middle", "dy": 11},
          "encoding": {"x": {"field": "d", "type": "temporal"}, "y": {"field": "v", "type": "quantitative"}, "text": {"field": "v", "type": "quantitative", "format": ".3f"}}
        },
        {
          "data": {"values": [{}]},
          "mark": {"type": "text", "text": "Volume undef", "fontSize": 9, "color": "#333333", "align": "left", "baseline": "middle"},
          "encoding": {"x": {"datum": {"year": 2023, "month": 3, "date": 14, "utc": true}, "type": "temporal"}, "y": {"datum": 0.356, "type": "quantitative"}}
        },
        {
          "data": {"values": [{}]},
          "mark": {"type": "text", "text": "━ $CPCE (Daily) 0.67", "fontSize": 9.5, "color": "#111111", "align": "left", "baseline": "middle"},
          "encoding": {"x": {"datum": {"year": 2023, "month": 3, "date": 7, "utc": true}, "type": "temporal"}, "y": {"datum": 1.585, "type": "quantitative"}}
        },
        {
          "data": {"values": [{"d": "2026-03-06", "v": 0.67}]},
          "mark": {"type": "point", "shape": "M-1,0L-0.8,-0.34L1,-0.34L1,0.34L-0.8,0.34Z", "size": 1156, "filled": true, "fill": "#ffffff", "stroke": "#111111", "strokeWidth": 1, "opacity": 1, "xOffset": 22},
          "encoding": {"x": {"field": "d", "type": "temporal"}, "y": {"field": "v", "type": "quantitative"}}
        },
        {
          "data": {"values": [{"d": "2026-03-06", "v": 0.67}]},
          "mark": {"type": "text", "font": "Liberation Sans", "fontSize": 11, "fontWeight": "bold", "color": "#111111", "baseline": "middle", "xOffset": 24},
          "encoding": {"x": {"field": "d", "type": "temporal"}, "y": {"field": "v", "type": "quantitative"}, "text": {"field": "v", "type": "quantitative", "format": ".2f"}}
        }
      ]
    },
    {
      "width": 1403,
      "height": 341,
      "layer": [
        {
          "data": {"values": [{"d": "2023-01-01", "e": "2024-01-01"}, {"d": "2025-01-01", "e": "2026-01-01"}]},
          "mark": {"type": "rect", "color": "#000000", "opacity": 0.05, "clip": true},
          "encoding": {
            "x": {
              "field": "d", "type": "temporal",
              "scale": {"type": "utc", "domain": [{"year": 2023, "month": 3, "date": 5, "utc": true}, {"year": 2026, "month": 3, "date": 10, "utc": true}]},
              "axis": {
                "title": null, "orient": "bottom", "labelPadding": 1,
                "values": [
                  {"year": 2023, "month": 4, "date": 1, "utc": true}, {"year": 2023, "month": 5, "date": 1, "utc": true}, {"year": 2023, "month": 6, "date": 1, "utc": true}, {"year": 2023, "month": 7, "date": 1, "utc": true}, {"year": 2023, "month": 8, "date": 1, "utc": true}, {"year": 2023, "month": 9, "date": 1, "utc": true}, {"year": 2023, "month": 10, "date": 1, "utc": true}, {"year": 2023, "month": 11, "date": 1, "utc": true}, {"year": 2023, "month": 12, "date": 1, "utc": true},
                  {"year": 2024, "month": 1, "date": 1, "utc": true}, {"year": 2024, "month": 2, "date": 1, "utc": true}, {"year": 2024, "month": 3, "date": 1, "utc": true}, {"year": 2024, "month": 4, "date": 1, "utc": true}, {"year": 2024, "month": 5, "date": 1, "utc": true}, {"year": 2024, "month": 6, "date": 1, "utc": true}, {"year": 2024, "month": 7, "date": 1, "utc": true}, {"year": 2024, "month": 8, "date": 1, "utc": true}, {"year": 2024, "month": 9, "date": 1, "utc": true}, {"year": 2024, "month": 10, "date": 1, "utc": true}, {"year": 2024, "month": 11, "date": 1, "utc": true}, {"year": 2024, "month": 12, "date": 1, "utc": true},
                  {"year": 2025, "month": 1, "date": 1, "utc": true}, {"year": 2025, "month": 2, "date": 1, "utc": true}, {"year": 2025, "month": 3, "date": 1, "utc": true}, {"year": 2025, "month": 4, "date": 1, "utc": true}, {"year": 2025, "month": 5, "date": 1, "utc": true}, {"year": 2025, "month": 6, "date": 1, "utc": true}, {"year": 2025, "month": 7, "date": 1, "utc": true}, {"year": 2025, "month": 8, "date": 1, "utc": true}, {"year": 2025, "month": 9, "date": 1, "utc": true}, {"year": 2025, "month": 10, "date": 1, "utc": true}, {"year": 2025, "month": 11, "date": 1, "utc": true}, {"year": 2025, "month": 12, "date": 1, "utc": true},
                  {"year": 2026, "month": 1, "date": 1, "utc": true}, {"year": 2026, "month": 2, "date": 1, "utc": true}, {"year": 2026, "month": 3, "date": 1, "utc": true}
                ],
                "labelExpr": "utcFormat(datum.value, '%m') == '01' ? utcFormat(datum.value, '%Y') : utcFormat(datum.value, '%b')",
                "labelFontWeight": {"condition": {"test": "utcFormat(datum.value, '%m') == '01'", "value": "bold"}, "value": "normal"}
              }
            },
            "x2": {"field": "e"}
          }
        },
        {
          "data": {"name": "spy"},
          "mark": {"type": "line", "color": "#000000", "strokeWidth": 1.6},
          "encoding": {
            "x": {"field": "d", "type": "temporal"},
            "y": {
              "field": "v", "type": "quantitative",
              "scale": {"domain": [377, 701], "nice": false, "zero": false},
              "axis": {"title": null, "orient": "right", "values": [400, 420, 440, 460, 480, 500, 520, 540, 560, 580, 600, 620, 640, 660, 680], "format": "d", "labelPadding": 2}
            }
          }
        },
        {
          "data": {"name": "ma50"},
          "mark": {"type": "line", "color": "#2323b8", "strokeWidth": 1.3},
          "encoding": {"x": {"field": "d", "type": "temporal"}, "y": {"field": "v", "type": "quantitative"}}
        },
        {
          "data": {"values": [{}]},
          "mark": {"type": "text", "text": "━ _SPY 672.38", "fontSize": 9.5, "color": "#111111", "align": "left", "baseline": "middle"},
          "encoding": {"x": {"datum": {"year": 2023, "month": 3, "date": 7, "utc": true}, "type": "temporal"}, "y": {"datum": 695.5, "type": "quantitative"}}
        },
        {
          "data": {"values": [{}]},
          "mark": {"type": "text", "text": "━ MA(50) 688.05", "fontSize": 9.5, "color": "#2323b8", "align": "left", "baseline": "middle"},
          "encoding": {"x": {"datum": {"year": 2023, "month": 3, "date": 7, "utc": true}, "type": "temporal"}, "y": {"datum": 687, "type": "quantitative"}}
        },
        {
          "data": {"values": [{"d": "2026-03-06", "v": 688.05}]},
          "mark": {"type": "point", "shape": "M-1,0L-0.8,-0.32L1,-0.32L1,0.32L-0.8,0.32Z", "size": 1156, "filled": true, "fill": "#ffffff", "stroke": "#2323b8", "strokeWidth": 1, "opacity": 1, "xOffset": 22},
          "encoding": {"x": {"field": "d", "type": "temporal"}, "y": {"field": "v", "type": "quantitative"}}
        },
        {
          "data": {"values": [{"d": "2026-03-06", "v": 688.05}]},
          "mark": {"type": "text", "font": "Liberation Sans", "fontSize": 10.5, "color": "#2323b8", "baseline": "middle", "xOffset": 24},
          "encoding": {"x": {"field": "d", "type": "temporal"}, "y": {"field": "v", "type": "quantitative"}, "text": {"field": "v", "type": "quantitative", "format": ".2f"}}
        },
        {
          "data": {"values": [{"d": "2026-03-06", "v": 672.38}]},
          "mark": {"type": "point", "shape": "M-1,0L-0.8,-0.34L1,-0.34L1,0.34L-0.8,0.34Z", "size": 1156, "filled": true, "fill": "#ffffff", "stroke": "#111111", "strokeWidth": 1, "opacity": 1, "xOffset": 22},
          "encoding": {"x": {"field": "d", "type": "temporal"}, "y": {"field": "v", "type": "quantitative"}}
        },
        {
          "data": {"values": [{"d": "2026-03-06", "v": 672.38}]},
          "mark": {"type": "text", "font": "Liberation Sans", "fontSize": 10.5, "fontWeight": "bold", "color": "#111111", "baseline": "middle", "xOffset": 24},
          "encoding": {"x": {"field": "d", "type": "temporal"}, "y": {"field": "v", "type": "quantitative"}, "text": {"field": "v", "type": "quantitative", "format": ".2f"}}
        }
      ]
    }
  ]
}
